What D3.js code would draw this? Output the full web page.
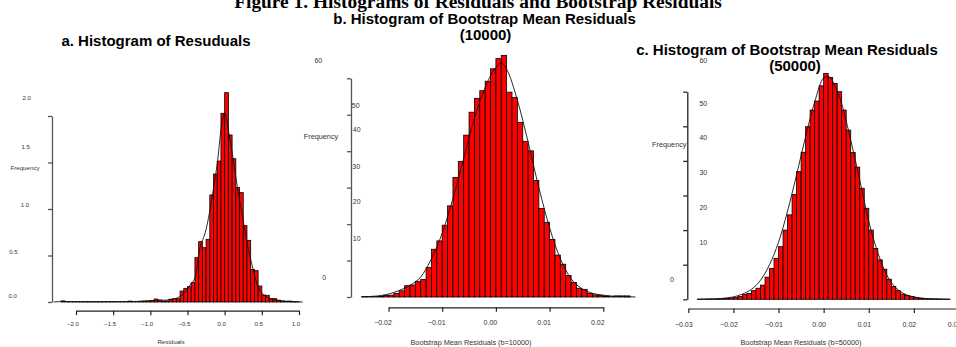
<!DOCTYPE html>
<html><head><meta charset="utf-8">
<script src="https://cdn.jsdelivr.net/npm/d3@7"></script>
<style>
body{margin:0;background:#fff}
svg{display:block}
text{font-family:"Liberation Sans",Arial,sans-serif}
</style>
</head><body>
<svg id="chart" width="956" height="347"></svg>
<script>
// ---------------- DATA ----------------
const mainTitle = "Figure 1. Histograms of Residuals and Bootstrap Residuals";

// a. residuals histogram (density), bins of 0.05 starting at -2.35
const resBinStart = -2.35, resBinWidth = 0.05;
const resValues = [
  0, 0, 0, 0.012, 0.004, 0.002, 0.002, 0.002, 0.002, 0.002,
  0.002, 0.002, 0.002, 0.002, 0.002, 0.002, 0.002, 0.002, 0.002, 0.002,
  0.002, 0.01, 0.003, 0.003, 0.008, 0.01, 0.012, 0.015, 0.032, 0.02,
  0.01, 0.01, 0.03, 0.035, 0.035, 0.118, 0.147, 0.165, 0.208, 0.477,
  0.649, 0.584, 0.674, 1.151, 1.376, 1.516, 2.029, 2.251, 1.796, 1.541,
  1.233, 1.176, 0.821, 0.663, 0.351, 0.337, 0.172, 0.075, 0.072, 0.036,
  0.036, 0.02, 0.01, 0.008, 0.01, 0.006, 0.003, 0
];
const resKdeX = [-2.3,-2.15,-1.8,-1.3,-1.0,-0.9,-0.8,-0.7,-0.6,-0.5,-0.45,-0.4,-0.34,-0.25,-0.16,-0.095,-0.05,0,0.06,0.11,0.17,0.24,0.31,0.38,0.44,0.51,0.6,0.73,0.9,1.05];
const resKdeY = [0,0.006,0.003,0.005,0.012,0.02,0.02,0.03,0.06,0.14,0.2,0.26,0.55,0.78,1.17,1.52,1.85,2.03,1.8,1.56,1.24,0.92,0.6,0.36,0.18,0.09,0.04,0.015,0.004,0];
const resXTicks = [-2.0,-1.5,-1.0,-0.5,0.0,0.5,1.0];
const resYTicks = [0,0.5,1.0,1.5,2.0];

// b. bootstrap mean residuals (b=10000), bins of 0.001 starting at -0.027
const b10BinStart = -0.027, b10BinWidth = 0.001;
const b10Values = [
  0, 0, 0.1, 0.1, 0.1, 0.15, 0.4, 0.5, 1.0, 1.7,
  3.1, 3.3, 4.3, 4.8, 8.1, 13.1, 15.4, 19.7, 25.0, 32.8,
  37.2, 44.4, 50.7, 54.5, 56.6, 59.2, 62.6, 65.4, 66.3, 56.2,
  54.7, 47.9, 42.7, 40.1, 32.0, 24.3, 20.5, 15.8, 11.5, 9.0,
  5.9, 4.0, 2.4, 2.1, 1.0, 0.6, 0.4, 0.2, 0.1, 0.3,
  0.3, 0.3, 0, 0
];
const b10KdeX = [-0.025,-0.022,-0.020,-0.018,-0.016,-0.014,-0.012,-0.010,-0.008,-0.006,-0.004,-0.002,0.000,0.001,0.002,0.004,0.006,0.008,0.010,0.012,0.014,0.016,0.018,0.020,0.022,0.024,0.026];
const b10KdeY = [0.05,0.3,0.8,1.8,3.2,5.5,10.5,17.5,27,38,49,57.5,63,64.2,62.5,54,42.5,30,19,10.5,5,2.3,1.0,0.5,0.2,0.1,0];
const b10XTicks = [-0.02,-0.01,0.00,0.01,0.02];
const bootYTicks = [0,10,20,30,40,50,60];

// c. bootstrap mean residuals (b=50000), bins of 0.001 starting at -0.029
const b50BinStart = -0.029, b50BinWidth = 0.001;
const b50Values = [
  0, 0.05, 0.05, 0.1, 0.1, 0.15, 0.2, 0.3, 0.4, 0.5,
  0.8, 1.4, 1.7, 2.5, 3.2, 4.1, 6.4, 8.9, 11.8, 15.2,
  20.0, 24.4, 30.3, 36.9, 42.5, 49.9, 54.7, 57.3, 61.7, 65.3,
  64.1, 62.4, 60.0, 54.7, 48.9, 42.4, 38.2, 32.1, 26.3, 20.0,
  14.7, 11.4, 8.7, 5.8, 3.7, 2.5, 1.5, 1.1, 0.8, 0.5,
  0.3, 0.2, 0.15, 0.1, 0.1, 0.05, 0.05, 0
];
const b50KdeX = [-0.028,-0.024,-0.022,-0.020,-0.018,-0.016,-0.014,-0.012,-0.010,-0.008,-0.006,-0.004,-0.002,0.000,0.001,0.002,0.004,0.006,0.008,0.010,0.012,0.014,0.016,0.018,0.020,0.022,0.024,0.028];
const b50KdeY = [0,0.1,0.3,0.7,1.5,2.9,5.5,10,16.5,25.5,36,47,57,64,64.5,63,56.5,46,34.5,22.5,13.5,7,3.3,1.5,0.7,0.3,0.1,0];
const b50XTicks = [-0.03,-0.02,-0.01,0.00,0.01,0.02,0.03];

// ---------------- LAYOUT ----------------
const panels = [
  {
    binStart: resBinStart, binWidth: resBinWidth, values: resValues,
    kdeX: resKdeX, kdeY: resKdeY, xTicks: resXTicks, yTicks: resYTicks,
    xDomain: [-2, 1], xRange: [76, 299], yDomain: [0, 2], yRange: [302, 116],
    yAxisX: 52, xAxisY: 310.7, tickFont: 6, xLabelDx: -3.6, xLabelY: 324.3,
    yFmt: d3.format(".1f"), xFmt: d3.format(".1f"),
    yLab: [[12.7,295.7],[13.3,251.7],[25,205],[25.7,146.7],[26.7,98.3]], yLabAnchor: "middle",
    title: [["a. Histogram of Resuduals", 156, 40]],
    xTitle: ["Residuals", 171, 341, 6.2], yTitle: ["Frequency", 25, 167.7, 6.2],
    axisColor: "#555"
  },
  {
    binStart: b10BinStart, binWidth: b10BinWidth, values: b10Values,
    kdeX: b10KdeX, kdeY: b10KdeY, xTicks: b10XTicks, yTicks: bootYTicks,
    xDomain: [-0.02, 0.02], xRange: [388.5, 603.3], yDomain: [0, 60], yRange: [297, 78.3],
    yAxisX: 351, xAxisY: 307.3, tickFont: 7, xLabelDx: -6, xLabelY: 322.8,
    yFmt: d3.format("d"), xFmt: d3.format(".2f"),
    yLab: [[324.3,277.7],[356.7,238.3],[356.7,201.7],[356.2,166],[356.7,129.3],[355.7,105],[318.3,60.7]], yLabAnchor: "middle",
    title: [["b. Histogram of Bootstrap Mean Residuals", 484.5, 18], ["(10000)", 485.5, 34]],
    xTitle: ["Bootstrap Mean Residuals (b=10000)", 471, 342.5, 7.3], yTitle: ["Frequency", 321, 136.7, 7.3],
    axisColor: "#555"
  },
  {
    binStart: b50BinStart, binWidth: b50BinWidth, values: b50Values,
    kdeX: b50KdeX, kdeY: b50KdeY, xTicks: b50XTicks, yTicks: bootYTicks,
    xDomain: [-0.03, 0.03], xRange: [688.3, 959], yDomain: [0, 60], yRange: [299.3, 91.7],
    yAxisX: 687.3, xAxisY: 308.5, tickFont: 7, xLabelDx: -5, xLabelY: 324,
    yFmt: d3.format("d"), xFmt: d3.format(".2f"),
    yLab: [[672,279],[703.3,242.3],[703.3,207.7],[703.3,172.3],[703.3,137.7],[703.3,103],[703.3,60.7]], yLabAnchor: "middle",
    title: [["c. Histogram of Bootstrap Mean Residuals", 787, 49], ["(50000)", 795, 65]],
    xTitle: ["Bootstrap Mean Residuals (b=50000)", 801, 342.3, 7.3], yTitle: ["Frequency", 669.3, 144.3, 7.3],
    axisColor: "#222"
  }
];

// ---------------- DRAW ----------------
const svg = d3.select("#chart");
svg.append("rect").attr("width", 956).attr("height", 347).attr("fill", "#fff");

svg.append("text")
  .attr("x", 478).attr("y", 8)
  .attr("text-anchor", "middle")
  .style("font-family", "'Liberation Serif','Times New Roman',serif")
  .style("font-weight", "bold").style("font-size", "19.4px")
  .attr("fill", "#000")
  .text(mainTitle);

panels.forEach(p => {
  const g = svg.append("g");
  const x = d3.scaleLinear().domain(p.xDomain).range(p.xRange);
  const y = d3.scaleLinear().domain(p.yDomain).range(p.yRange);
  const bins = p.values.map((v, i) => ({ x0: p.binStart + i * p.binWidth, x1: p.binStart + (i + 1) * p.binWidth, v }));

  // bars
  g.selectAll("rect.bar").data(bins).join("rect")
    .attr("class", "bar")
    .attr("x", d => x(d.x0))
    .attr("width", d => x(d.x1) - x(d.x0))
    .attr("y", d => y(d.v))
    .attr("height", d => y(0) - y(d.v))
    .attr("fill", "#ff0000")
    .attr("stroke", "#000")
    .attr("stroke-width", 0.8);

  // density curve
  const pts = p.kdeX.map((xv, i) => [xv, p.kdeY[i]]);
  g.append("path")
    .datum(pts)
    .attr("fill", "none")
    .attr("stroke", "#111")
    .attr("stroke-width", 0.9)
    .attr("d", d3.line().x(d => x(d[0])).y(d => y(d[1])).curve(d3.curveMonotoneX));

  // y axis
  const ya = g.append("g")
    .attr("transform", `translate(${p.yAxisX},0)`)
    .call(d3.axisLeft(y).tickValues(p.yTicks).tickSize(4).tickSizeOuter(0).tickFormat(""));
  ya.selectAll("path, line").attr("stroke", p.axisColor).attr("stroke-width", 1.3);

  // y tick labels (offset placement as in the original)
  g.selectAll("text.ylab").data(p.yTicks).join("text")
    .attr("class", "ylab")
    .attr("x", (d, i) => p.yLab[i][0])
    .attr("y", (d, i) => p.yLab[i][1])
    .attr("text-anchor", p.yLabAnchor)
    .attr("dominant-baseline", "central")
    .style("font-size", p.tickFont + "px")
    .attr("fill", "#333")
    .text(d => p.yFmt(d));

  // x axis
  const xa = g.append("g")
    .attr("transform", `translate(0,${p.xAxisY})`)
    .call(d3.axisBottom(x).tickValues(p.xTicks).tickSize(4.5).tickSizeOuter(0).tickFormat(p.xFmt));
  xa.selectAll("path, line").attr("stroke", "#222").attr("stroke-width", 1.2);
  xa.selectAll("text")
    .attr("x", p.xLabelDx)
    .attr("y", p.xLabelY - p.xAxisY)
    .attr("dy", null)
    .attr("dominant-baseline", "central")
    .style("font-size", p.tickFont + "px")
    .style("font-family", "'Liberation Sans',Arial,sans-serif")
    .attr("fill", "#333");

  // titles
  p.title.forEach(t => {
    g.append("text").attr("x", t[1]).attr("y", t[2])
      .attr("text-anchor", "middle").attr("dominant-baseline", "central")
      .style("font-weight", "bold").style("font-size", "15px")
      .attr("fill", "#000").text(t[0]);
  });
  g.append("text").attr("x", p.xTitle[1]).attr("y", p.xTitle[2])
    .attr("text-anchor", "middle").attr("dominant-baseline", "central")
    .style("font-size", p.xTitle[3] + "px").attr("fill", "#333").text(p.xTitle[0]);
  g.append("text").attr("x", p.yTitle[1]).attr("y", p.yTitle[2])
    .attr("text-anchor", "middle").attr("dominant-baseline", "central")
    .style("font-size", p.yTitle[3] + "px").attr("fill", "#333").text(p.yTitle[0]);
});
</script>
</body></html>
